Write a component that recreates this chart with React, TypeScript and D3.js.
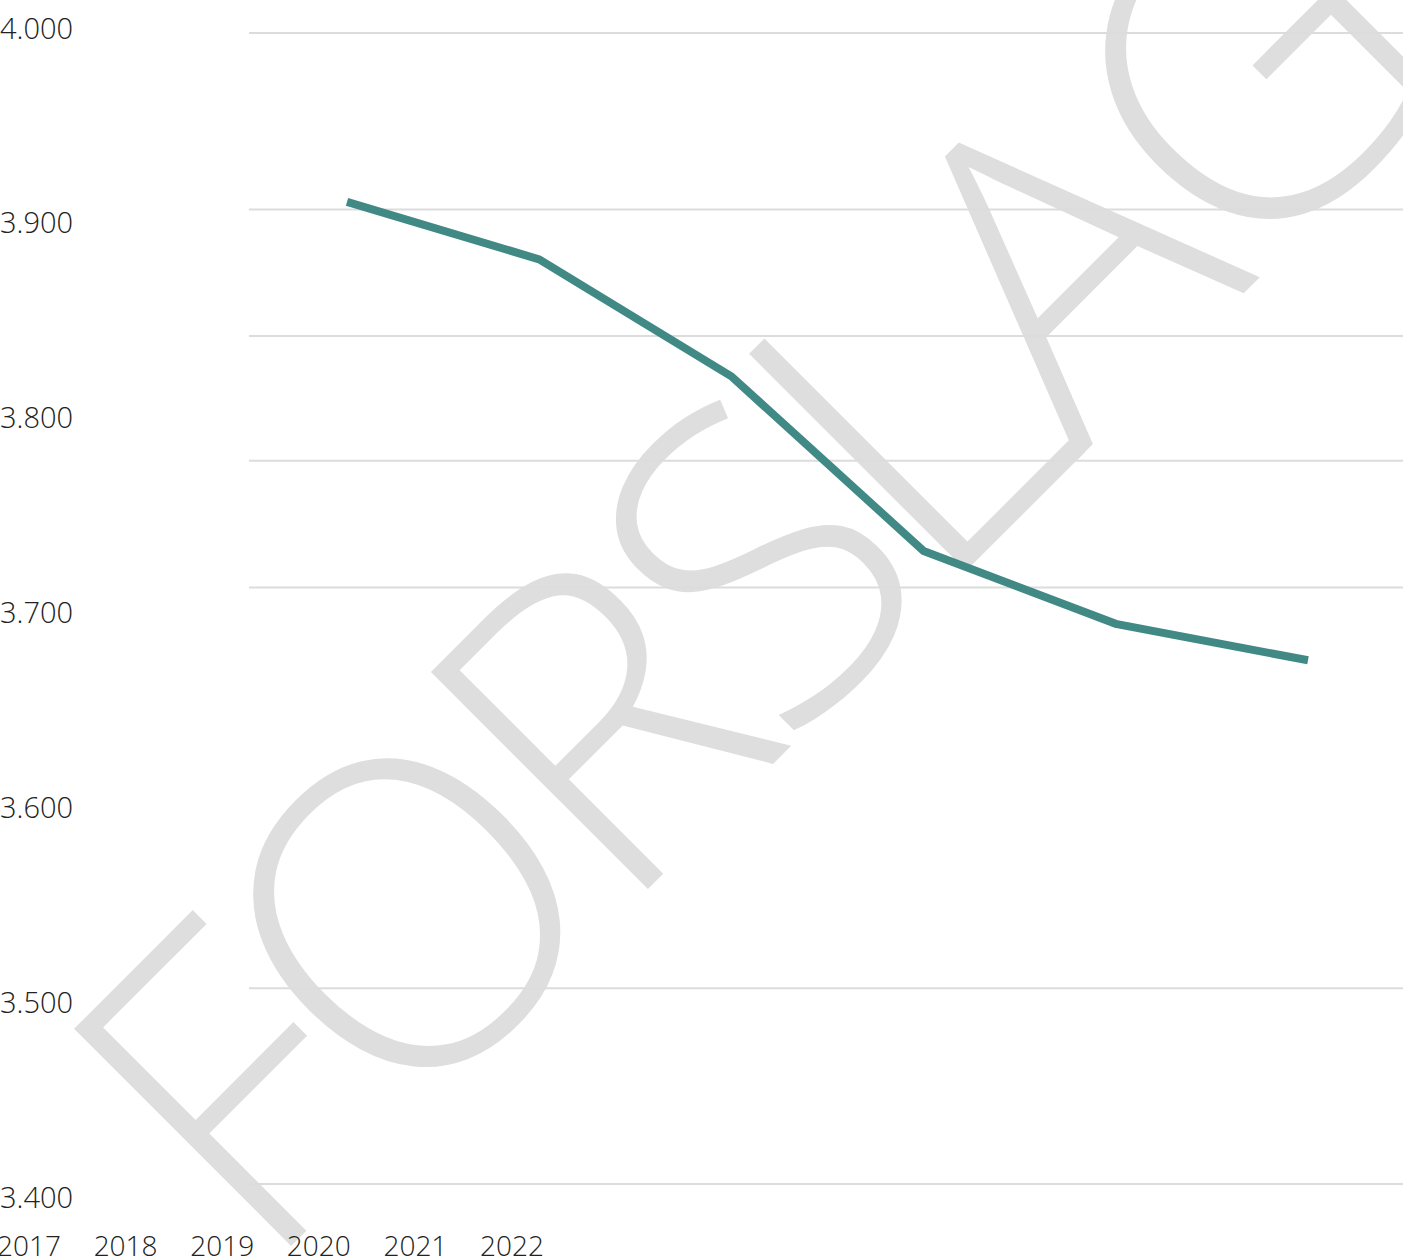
import * as d3 from 'd3';

const years = ['2017', '2018', '2019', '2020', '2021', '2022'];
const values = [3912, 3882, 3821, 3730, 3692, 3673];
const yTicks = [4000, 3900, 3800, 3700, 3600, 3500, 3400];
const gridValues = [4000, 3908, 3842, 3777, 3711, 3502, 3400];
const watermark = 'FORSLAG';

const W = 1403;
const H = 1258;
const LINE = '#408985';
const GRID = '#dcdcdc';
const INK = '#222';
const FONT = '"Open Sans", sans-serif';

const fmt = (v: number) => d3.format(',')(v).replace(/,/g, '.');

export default function App() {
  const y = d3.scaleLinear().domain([3400, 4000]).range([1184, 33]);
  const yLabel = d3.scaleLinear().domain([3400, 4000]).range([1196, 27]);
  const x = d3.scalePoint<string>().domain(years).range([347, 1308]);
  const xLabel = d3.scalePoint<string>().domain(years).range([29, 512]);

  const line = d3
    .line<number>()
    .x((_, i) => x(years[i]) ?? 0)
    .y((d) => y(d));

  return (
    <svg
      width={W}
      height={H}
      viewBox={`0 0 ${W} ${H}`}
      style={{ position: 'absolute', left: 0, top: 0, display: 'block', background: '#fff' }}
    >
      <text
        transform="translate(856,681) rotate(-45)"
        textAnchor="middle"
        fontFamily={FONT}
        fontWeight={300}
        fontSize={430}
        letterSpacing={-20}
        fill="#dedede"
      >
        {watermark}
      </text>
      {gridValues.map((g) => (
        <line key={g} x1={249} x2={W} y1={y(g)} y2={y(g)} stroke={GRID} strokeWidth={2} />
      ))}
      <path d={line(values) ?? undefined} fill="none" stroke={LINE} strokeWidth={8} />
      {yTicks.map((t) => (
        <text
          key={t}
          x={0}
          y={yLabel(t)}
          dominantBaseline="central"
          fontFamily={FONT}
          fontWeight={300}
          fontSize={29}
          fill={INK}
        >
          {fmt(t)}
        </text>
      ))}
      {years.map((yr) => (
        <text
          key={yr}
          x={xLabel(yr)}
          y={1245}
          textAnchor="middle"
          dominantBaseline="central"
          fontFamily={FONT}
          fontWeight={300}
          fontSize={28}
          fill={INK}
        >
          {yr}
        </text>
      ))}
    </svg>
  );
}
